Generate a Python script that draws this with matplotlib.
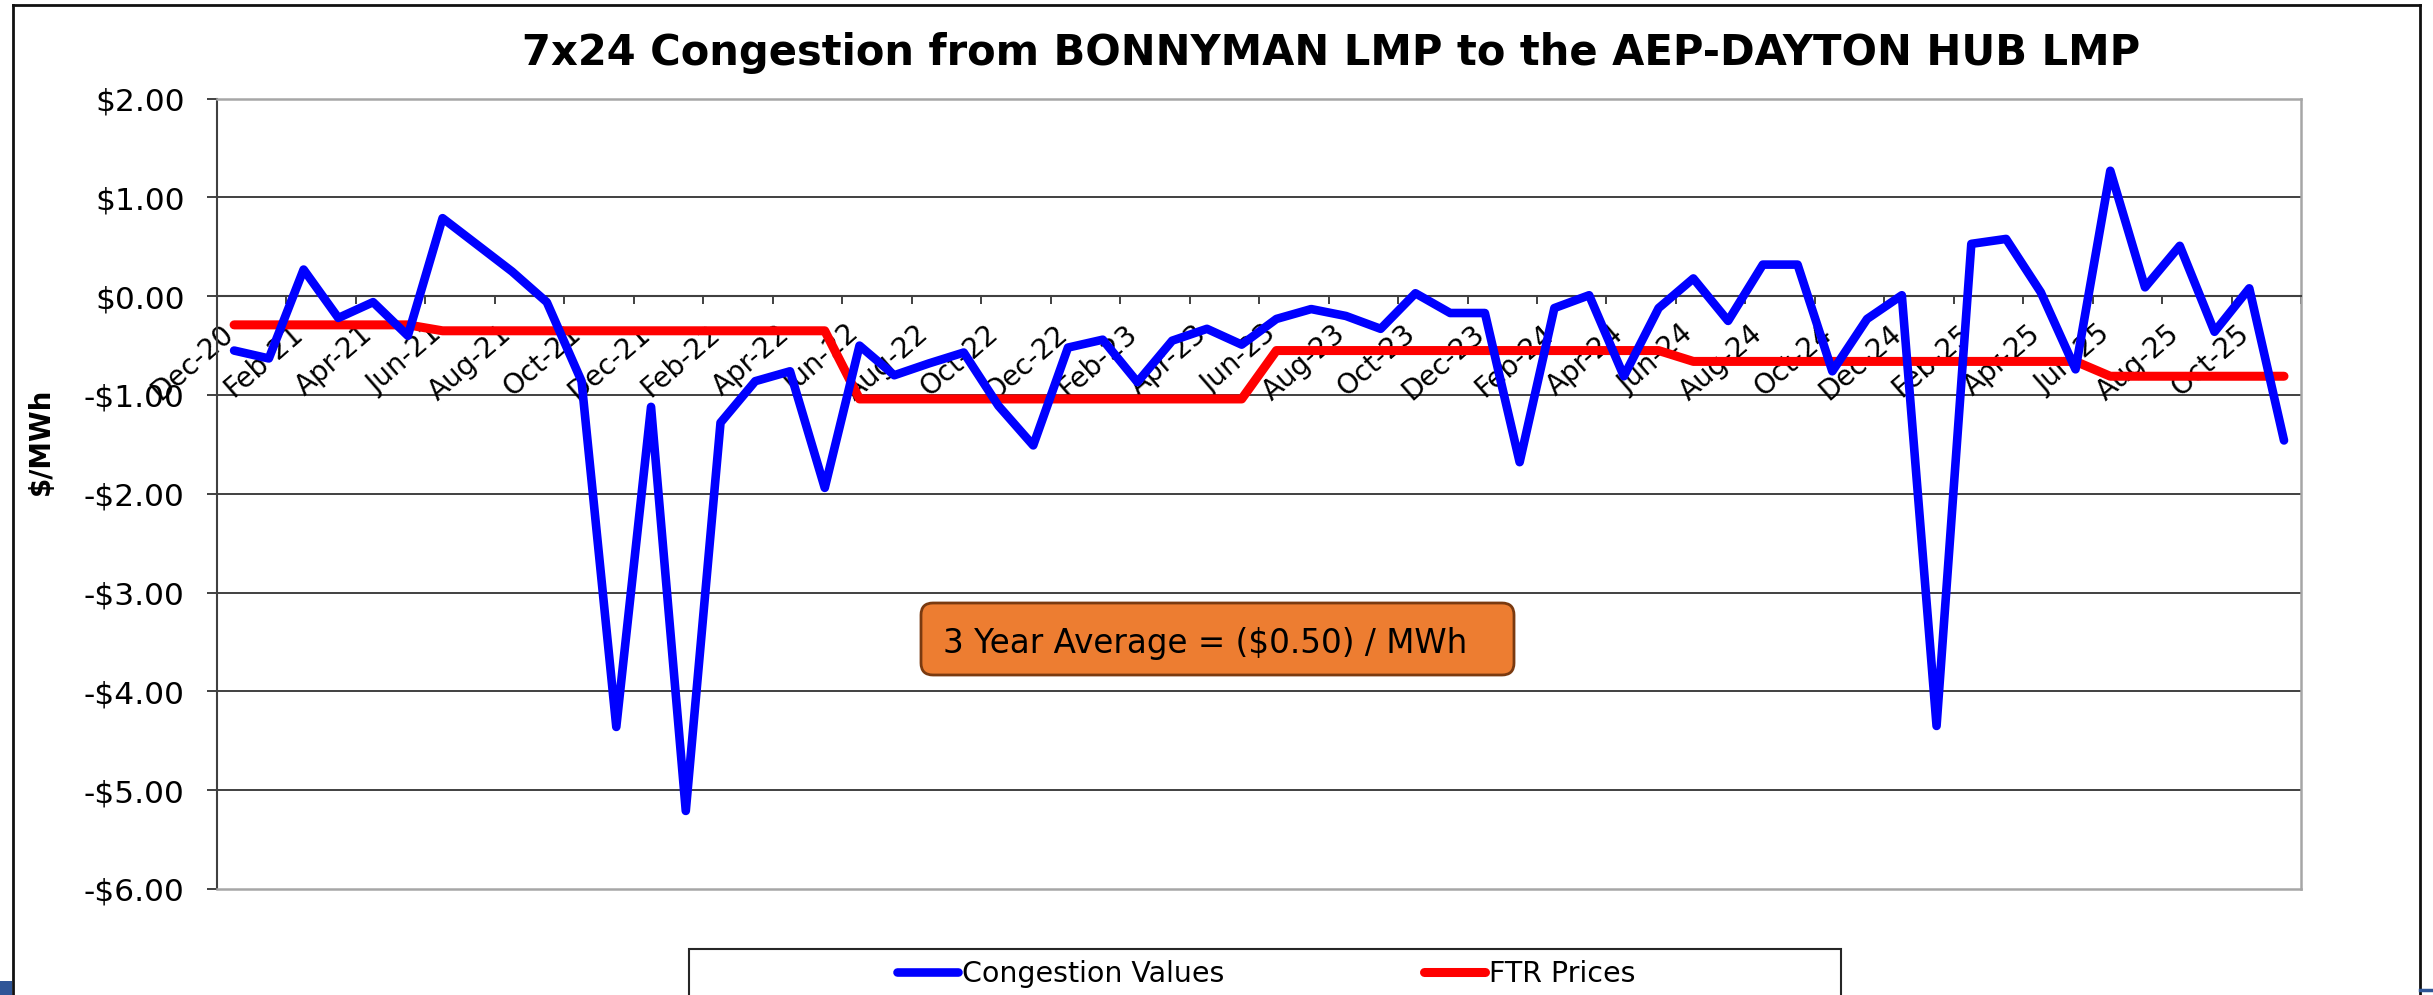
import numpy as np
import matplotlib
matplotlib.use("Agg")
import matplotlib.pyplot as plt
from matplotlib.lines import Line2D
from matplotlib.patches import FancyBboxPatch, Rectangle
from matplotlib.ticker import NullFormatter
import matplotlib.transforms as mtransforms

plt.rcParams["font.family"] = ["DejaVu Sans"]
plt.rcParams["text.parse_math"] = False

# ---------------- data ----------------
months = ["Dec-20", "Jan-21", "Feb-21", "Mar-21", "Apr-21", "May-21", "Jun-21", "Jul-21",
          "Aug-21", "Sep-21", "Oct-21", "Nov-21", "Dec-21", "Jan-22", "Feb-22", "Mar-22",
          "Apr-22", "May-22", "Jun-22", "Jul-22", "Aug-22", "Sep-22", "Oct-22", "Nov-22",
          "Dec-22", "Jan-23", "Feb-23", "Mar-23", "Apr-23", "May-23", "Jun-23", "Jul-23",
          "Aug-23", "Sep-23", "Oct-23", "Nov-23", "Dec-23", "Jan-24", "Feb-24", "Mar-24",
          "Apr-24", "May-24", "Jun-24", "Jul-24", "Aug-24", "Sep-24", "Oct-24", "Nov-24",
          "Dec-24", "Jan-25", "Feb-25", "Mar-25", "Apr-25", "May-25", "Jun-25", "Jul-25",
          "Aug-25", "Sep-25", "Oct-25", "Nov-25"]

congestion = [-0.55, -0.63, 0.27, -0.22, -0.06, -0.40, 0.79, 0.52, 0.25, -0.06,
              -0.86, -4.36, -1.12, -5.21, -1.28, -0.86, -0.76, -1.94, -0.50, -0.80,
              -0.68, -0.57, -1.11, -1.51, -0.52, -0.44, -0.87, -0.45, -0.33, -0.49,
              -0.23, -0.13, -0.20, -0.33, 0.03, -0.17, -0.17, -1.68, -0.12, 0.01,
              -0.81, -0.12, 0.18, -0.25, 0.32, 0.32, -0.76, -0.23, 0.01, -4.35,
              0.53, 0.58, 0.04, -0.74, 1.27, 0.09, 0.51, -0.36, 0.08, -1.46]

ftr = [-0.29] * 6 + [-0.35] * 12 + [-1.04] * 12 + [-0.55] * 12 + [-0.66] * 12 + [-0.81] * 6

yticks = [2, 1, 0, -1, -2, -3, -4, -5, -6]
ytick_labels = ["$2.00", "$1.00", "$0.00", "-$1.00", "-$2.00", "-$3.00", "-$4.00", "-$5.00", "-$6.00"]
grid_levels = [1, -1, -2, -3, -4, -5]

title = "7x24 Congestion from BONNYMAN LMP to the AEP-DAYTON HUB LMP"
ylabel = "$/MWh"
series_names = ["Congestion Values", "FTR Prices"]
note = "3 Year Average = ($0.50) / MWh"

# ---------------- layout helpers ----------------
W, H = 2433, 995
def fx(px):
    return px / W
def fy(py):
    return 1 - py / H

fig = plt.figure(figsize=(24.334, 9.954), dpi=100)
fig.patch.set_facecolor("white")

ax = fig.add_axes([fx(216.7), fy(889), fx(2301) - fx(216.7), fy(99) - fy(889)])

x = np.arange(len(months))
ax.plot(x, ftr, color="#FF0000", lw=6.5, solid_joinstyle="round",
        solid_capstyle="round", zorder=3)
ax.plot(x, congestion, color="#0000FF", lw=6.2, solid_joinstyle="round",
        solid_capstyle="round", zorder=4)

ax.set_xlim(-0.5, len(months) - 0.5)
ax.set_ylim(-6, 2)

# gridlines
for v in grid_levels:
    ax.axhline(v, color="#404040", lw=1.4, zorder=1)
ax.axhline(-6, color="#A6A6A6", lw=1.8, zorder=2.6, clip_on=False)

# spines
ax.spines["top"].set_color("#A6A6A6")
ax.spines["top"].set_linewidth(1.8)
ax.spines["right"].set_color("#A6A6A6")
ax.spines["right"].set_linewidth(1.8)
ax.spines["left"].set_color("#404040")
ax.spines["left"].set_linewidth(1.5)
ax.spines["bottom"].set_position(("data", 0))
ax.spines["bottom"].set_color("#404040")
ax.spines["bottom"].set_linewidth(1.5)

# y axis
ax.set_yticks(yticks)
ax.set_yticklabels(ytick_labels)
ax.tick_params(axis="y", direction="out", length=7.2, width=1.4, color="#404040",
               labelsize=22.5, pad=16, labelcolor="black")

# x axis: tick marks between categories every 2, labels every other month
ax.set_xticks(np.arange(-0.5, len(months), 2))
ax.xaxis.set_major_formatter(NullFormatter())
ax.set_xticks(x[::2], labels=months[::2], minor=True)
ax.tick_params(axis="x", which="major", direction="out", length=5.8, width=1.4,
               color="#404040")
ax.tick_params(axis="x", which="minor", length=0, pad=24, labelsize=20)
shift = mtransforms.ScaledTranslation(-4 / 100, 0, fig.dpi_scale_trans)
for lbl in ax.get_xticklabels(minor=True):
    lbl.set_rotation(41)
    lbl.set_ha("right")
    lbl.set_va("center")
    lbl.set_rotation_mode("anchor")
    lbl.set_transform(lbl.get_transform() + shift)

# title and axis label
fig.text(fx(1331), fy(65), title, ha="center", va="baseline", fontsize=30,
         fontweight="bold")
fig.text(fx(41), fy(441), ylabel, ha="center", va="center", rotation=90,
         fontsize=20, fontweight="bold")

# annotation box
box = FancyBboxPatch((921, H - 675), 593, 72,
                     boxstyle="round,pad=0,rounding_size=12",
                     transform=mtransforms.IdentityTransform(),
                     facecolor="#ED7D31", edgecolor="#7A3A10", lw=2, zorder=5)
fig.add_artist(box)
fig.text(fx(943), fy(653), note, ha="left", va="baseline", fontsize=23.5, zorder=6)

# legend
handles = [Line2D([], [], color="#0000FF", lw=6.2, solid_capstyle="round"),
           Line2D([], [], color="#FF0000", lw=6.5, solid_capstyle="round")]
fig.legend(handles, series_names, loc="center", bbox_to_anchor=(fx(1266), fy(974)),
           ncol=2, frameon=False, fontsize=20.5, handlelength=2.15,
           handletextpad=0.15, columnspacing=7.0)
fig.add_artist(Rectangle((fx(689), fy(1003)), fx(1841) - fx(689), fy(949) - fy(1003),
                         transform=fig.transFigure, fill=False,
                         edgecolor="#262626", lw=1.5))

# outer frame
frame_kw = dict(color="#111111", lw=2.0, transform=fig.transFigure)
fig.add_artist(Line2D([fx(13), fx(13)], [fy(5.5), fy(1000)], **frame_kw))
fig.add_artist(Line2D([fx(13), fx(2420)], [fy(5.5), fy(5.5)], **frame_kw))
fig.add_artist(Line2D([fx(2420), fx(2420)], [fy(5.5), fy(1000)], **frame_kw))
fig.add_artist(Rectangle((0, 0), fx(12), fy(981), transform=fig.transFigure,
                         facecolor="#2F5597", edgecolor="none"))
fig.add_artist(Line2D([fx(2420), fx(2433)], [fy(990), fy(990)], color="#2F5597",
                      lw=2.5, transform=fig.transFigure))

fig.savefig("out.png", dpi=100, facecolor="white")
